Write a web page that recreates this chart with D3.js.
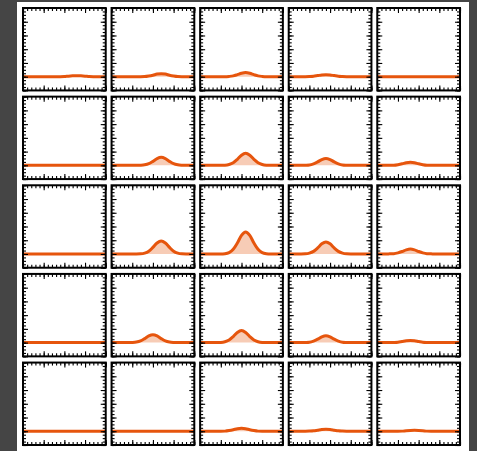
<!DOCTYPE html>
<html>
<head>
<meta charset="utf-8">
<script src="https://cdn.jsdelivr.net/npm/d3@7"></script>
<style>
  body { margin: 0; background: #454545; }
  svg { display: block; }
</style>
</head>
<body>
<svg id="chart" width="477" height="451"></svg>
<script>
// grid of small multiples, 5 rows x 5 cols, each a density-like curve
var rows = [0, 1, 2, 3, 4],
    cols = [0, 1, 2, 3, 4];

var xs = d3.range(0, 21); // sample positions 0..20

var Z = [0,0,0,0,0,0,0,0,0,0,0,0,0,0,0,0,0,0,0,0,0];

var row0 = [
  [0,0,0,0,0,0,0,0,0,0,0.01,0.04,0.06,0.07,0.06,0.04,0.01,0,0,0,0],
  [0,0,0,0,0,0,0,0,0.01,0.05,0.11,0.19,0.22,0.19,0.11,0.05,0.01,0,0,0,0],
  [0,0,0,0,0,0,0,0.02,0.06,0.15,0.25,0.30,0.25,0.15,0.06,0.02,0,0,0,0,0],
  [0,0,0,0,0,0.01,0.03,0.08,0.13,0.15,0.13,0.08,0.03,0.01,0,0,0,0,0,0,0],
  Z
];
var row1 = [
  Z,
  [0,0,0,0,0,0,0,0.01,0.04,0.12,0.29,0.49,0.58,0.49,0.29,0.12,0.04,0.01,0,0,0],
  [0,0,0,0,0,0,0.01,0.06,0.19,0.44,0.74,0.88,0.74,0.44,0.19,0.06,0.01,0,0,0,0],
  [0,0,0,0,0.01,0.03,0.11,0.25,0.42,0.50,0.42,0.25,0.11,0.03,0.01,0,0,0,0,0,0],
  [0,0,0,0,0.01,0.05,0.11,0.19,0.22,0.19,0.11,0.05,0.01,0,0,0,0,0,0,0,0]
];
var row2 = [
  Z,
  [0,0,0,0,0,0,0,0.01,0.06,0.20,0.48,0.80,0.95,0.80,0.48,0.20,0.06,0.01,0,0,0],
  [0,0,0,0,0,0,0.02,0.10,0.34,0.80,1.35,1.60,1.35,0.80,0.34,0.10,0.02,0,0,0,0],
  [0,0,0,0,0.01,0.06,0.19,0.44,0.74,0.88,0.74,0.44,0.19,0.06,0.01,0,0,0,0,0,0],
  [0,0,0,0.01,0.02,0.08,0.18,0.30,0.36,0.30,0.18,0.08,0.02,0.01,0,0,0,0,0,0,0]
];
var row3 = [
  Z,
  [0,0,0,0,0,0.01,0.04,0.12,0.29,0.49,0.58,0.49,0.29,0.12,0.04,0.01,0,0,0,0,0],
  [0,0,0,0,0,0.01,0.06,0.19,0.44,0.74,0.88,0.74,0.44,0.19,0.06,0.01,0,0,0,0,0],
  [0,0,0,0,0.01,0.03,0.11,0.25,0.42,0.50,0.42,0.25,0.11,0.03,0.01,0,0,0,0,0,0],
  [0,0,0,0,0.01,0.03,0.08,0.13,0.15,0.13,0.08,0.03,0.01,0,0,0,0,0,0,0,0]
];
var row4 = [
  Z,
  Z,
  [0,0,0,0,0,0,0.01,0.05,0.11,0.19,0.22,0.19,0.11,0.05,0.01,0,0,0,0,0,0],
  [0,0,0,0,0,0.01,0.03,0.08,0.13,0.15,0.13,0.08,0.03,0.01,0,0,0,0,0,0,0],
  [0,0,0,0,0,0,0.01,0.04,0.06,0.07,0.06,0.04,0.01,0,0,0,0,0,0,0,0]
];
var grid = [row0, row1, row2, row3, row4];

var xMajor = [0, 5, 10, 15, 20],
    xMinor = d3.range(0, 21),
    yMajor = [-1, 0, 1, 2, 3, 4, 5],
    yMinor = d3.range(-1, 5.01, 0.25);

var svg = d3.select("#chart");

svg.append("rect")
    .attr("x", 17).attr("y", 2)
    .attr("width", 452).attr("height", 460)
    .attr("fill", "#fff");

var colScale = d3.scaleBand().domain(cols).range([23, 460]).paddingInner(0.066),
    rowScale = d3.scaleBand().domain(rows).range([8, 445]).paddingInner(0.07);

var w = colScale.bandwidth(),
    h = rowScale.bandwidth();

var x = d3.scaleLinear().domain([0, 20]).range([0, w]),
    y = d3.scaleLinear().domain([-1, 5]).range([h, 0]);

var line = d3.line()
    .x(function(d, i) { return x(xs[i]); })
    .y(function(d) { return y(d); })
    .curve(d3.curveMonotoneX);

var area = d3.area()
    .x(function(d, i) { return x(xs[i]); })
    .y0(y(0))
    .y1(function(d) { return y(d); })
    .curve(d3.curveMonotoneX);

// tick helper: inward ticks, no labels, no domain line
function ticks(axisFn, vals, size, tx, ty) {
  return function(g) {
    g.attr("transform", "translate(" + tx + "," + ty + ")")
      .call(axisFn.tickValues(vals).tickSize(-size).tickFormat(""));
    g.select(".domain").remove();
    g.selectAll("line").attr("stroke", "#000").attr("stroke-width", 1.1);
  };
}

rows.forEach(function(r) {
  cols.forEach(function(c) {
    var vals = grid[r][c];
    var p = svg.append("g")
        .attr("transform", "translate(" + colScale(c) + "," + rowScale(r) + ")");

    p.append("path")
        .datum(vals)
        .attr("d", area)
        .attr("fill", "#e6550d")
        .attr("fill-opacity", 0.3);

    p.append("path")
        .datum(vals)
        .attr("d", line)
        .attr("fill", "none")
        .attr("stroke", "#e6550d")
        .attr("stroke-width", 3);

    // minor + major ticks on all four sides
    p.append("g").call(ticks(d3.axisBottom(x), xMinor, 3, 0, h));
    p.append("g").call(ticks(d3.axisBottom(x), xMajor, 5, 0, h));
    p.append("g").call(ticks(d3.axisTop(x), xMinor, 3, 0, 0));
    p.append("g").call(ticks(d3.axisTop(x), xMajor, 5, 0, 0));
    p.append("g").call(ticks(d3.axisLeft(y), yMinor, 3, 0, 0));
    p.append("g").call(ticks(d3.axisLeft(y), yMajor, 5, 0, 0));
    p.append("g").call(ticks(d3.axisRight(y), yMinor, 3, w, 0));
    p.append("g").call(ticks(d3.axisRight(y), yMajor, 5, w, 0));

    p.append("rect")
        .attr("width", w).attr("height", h)
        .attr("fill", "none")
        .attr("stroke", "#000")
        .attr("stroke-width", 2);
  });
});
</script>
</body>
</html>
